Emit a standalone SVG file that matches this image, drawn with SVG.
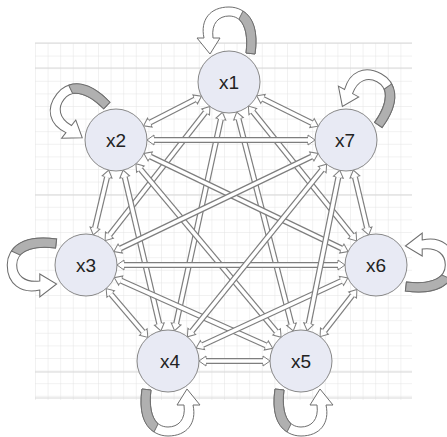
<svg xmlns="http://www.w3.org/2000/svg" width="447" height="437" viewBox="0 0 447 437">
<defs>
<pattern id="grid" x="35" y="43" width="12.6" height="12.6" patternUnits="userSpaceOnUse">
<path d="M0,0 H12.6 M0,0 V12.6" fill="none" stroke="#e4e4e4" stroke-width="1"/>
</pattern>
<marker id="ah" markerUnits="userSpaceOnUse" markerWidth="20" markerHeight="20" refX="0" refY="0" orient="auto-start-reverse" overflow="visible" viewBox="-10 -10 20 20">
<path d="M0,-3 L0,-5 L7,0 L0,5 L0,3" fill="#fff" stroke="#7e7e7e" stroke-width="1"/>
</marker>
<g id="loop">
<path d="M26,-28 C31,-60 17,-75 0,-75 C-19,-75 -29,-62 -25,-44 L-32,-44 L-19,-28 L-9,-44 L-16,-44 C-18,-59 -10,-66 0,-66 C12,-66 20,-55 17,-29 Z" fill="#fff" stroke="#6e6e6e" stroke-width="1"/>
<path d="M26,-28 C29,-50 25,-64 14,-71 L10,-63 C17,-56 19,-44 17,-29 Z" fill="#b0b0b0" stroke="#6e6e6e" stroke-width="1"/>
</g>
</defs>
<style>
.o{stroke:#7e7e7e;stroke-width:6;fill:none}
.i{stroke:#fff;stroke-width:3.6;fill:none;marker-start:url(#ah);marker-end:url(#ah)}
.n{fill:#e8eaf4;stroke:#888;stroke-width:1}
.t{font-family:"Liberation Sans",Arial,sans-serif;font-size:19px;fill:#222;text-anchor:middle}
</style>
<rect width="447" height="437" fill="#fff"/>
<rect x="35" y="43" width="377" height="357" fill="url(#grid)"/>
<g id="grid-major" stroke="#d8d8d8" stroke-width="1" fill="none">
<path d="M35,43 H412 M35,68 H412 M35,195 H412 M35,372 H412 M35,398 H412"/>
</g>
<g id="loops">
<use href="#loop" transform="translate(229,82)"/>
<use href="#loop" transform="translate(346,140) rotate(28)"/>
<use href="#loop" transform="translate(116,140) rotate(-52)"/>
<use href="#loop" transform="translate(86,265) rotate(-90) scale(1,1.05)"/>
<use href="#loop" transform="translate(376,265) rotate(90) scale(1,1.05)"/>
<use href="#loop" transform="translate(168,361) rotate(180)"/>
<use href="#loop" transform="translate(301,361) rotate(180)"/>
</g>
<g id="connectors">
<line class="o" x1="195.2" y1="99.4" x2="149.8" y2="122.6"/><line class="i" x1="195.2" y1="99.4" x2="149.8" y2="122.6"/>
<line class="o" x1="205.6" y1="112" x2="109.4" y2="235.1"/><line class="i" x1="205.6" y1="112" x2="109.4" y2="235.1"/>
<line class="o" x1="220.9" y1="119.1" x2="176.1" y2="323.9"/><line class="i" x1="220.9" y1="119.1" x2="176.1" y2="323.9"/>
<line class="o" x1="238.5" y1="118.8" x2="291.5" y2="324.2"/><line class="i" x1="238.5" y1="118.8" x2="291.5" y2="324.2"/>
<line class="o" x1="252.8" y1="111.6" x2="352.2" y2="235.4"/><line class="i" x1="252.8" y1="111.6" x2="352.2" y2="235.4"/>
<line class="o" x1="263" y1="98.9" x2="312" y2="123.1"/><line class="i" x1="263" y1="98.9" x2="312" y2="123.1"/>
<line class="o" x1="107.1" y1="177" x2="94.9" y2="228.1"/><line class="i" x1="107.1" y1="177" x2="94.9" y2="228.1"/>
<line class="o" x1="124.7" y1="177" x2="159.3" y2="324"/><line class="i" x1="124.7" y1="177" x2="159.3" y2="324"/>
<line class="o" x1="140.4" y1="169.1" x2="276.6" y2="331.9"/><line class="i" x1="140.4" y1="169.1" x2="276.6" y2="331.9"/>
<line class="o" x1="150.2" y1="156.5" x2="341.8" y2="248.5"/><line class="i" x1="150.2" y1="156.5" x2="341.8" y2="248.5"/>
<line class="o" x1="154" y1="140" x2="308" y2="140"/><line class="i" x1="154" y1="140" x2="308" y2="140"/>
<line class="o" x1="110.7" y1="293.9" x2="143.3" y2="332.1"/><line class="i" x1="110.7" y1="293.9" x2="143.3" y2="332.1"/>
<line class="o" x1="120.7" y1="280.5" x2="266.3" y2="345.5"/><line class="i" x1="120.7" y1="280.5" x2="266.3" y2="345.5"/>
<line class="o" x1="124" y1="265" x2="338" y2="265"/><line class="i" x1="124" y1="265" x2="338" y2="265"/>
<line class="o" x1="120.2" y1="248.5" x2="311.8" y2="156.5"/><line class="i" x1="120.2" y1="248.5" x2="311.8" y2="156.5"/>
<line class="o" x1="206" y1="361" x2="263" y2="361"/><line class="i" x1="206" y1="361" x2="263" y2="361"/>
<line class="o" x1="202.5" y1="345.1" x2="341.5" y2="280.9"/><line class="i" x1="202.5" y1="345.1" x2="341.5" y2="280.9"/>
<line class="o" x1="191.8" y1="331.4" x2="322.2" y2="169.6"/><line class="i" x1="191.8" y1="331.4" x2="322.2" y2="169.6"/>
<line class="o" x1="324.4" y1="331.1" x2="352.6" y2="295"/><line class="i" x1="324.4" y1="331.1" x2="352.6" y2="295"/>
<line class="o" x1="308.6" y1="323.8" x2="338.4" y2="177.2"/><line class="i" x1="308.6" y1="323.8" x2="338.4" y2="177.2"/>
<line class="o" x1="367.1" y1="228.1" x2="354.9" y2="177"/><line class="i" x1="367.1" y1="228.1" x2="354.9" y2="177"/>
</g>
<g id="x1"><circle class="n" cx="229" cy="82" r="31"/><text class="t" x="229" y="89">x1</text></g>
<g id="x2"><circle class="n" cx="116" cy="140" r="31"/><text class="t" x="116" y="147">x2</text></g>
<g id="x3"><circle class="n" cx="86" cy="265" r="31"/><text class="t" x="86" y="272">x3</text></g>
<g id="x4"><circle class="n" cx="168" cy="361" r="31"/><text class="t" x="170" y="368">x4</text></g>
<g id="x5"><circle class="n" cx="301" cy="361" r="31"/><text class="t" x="301" y="368">x5</text></g>
<g id="x6"><circle class="n" cx="376" cy="265" r="31"/><text class="t" x="376" y="272">x6</text></g>
<g id="x7"><circle class="n" cx="346" cy="140" r="31"/><text class="t" x="345" y="147">x7</text></g>
</svg>
